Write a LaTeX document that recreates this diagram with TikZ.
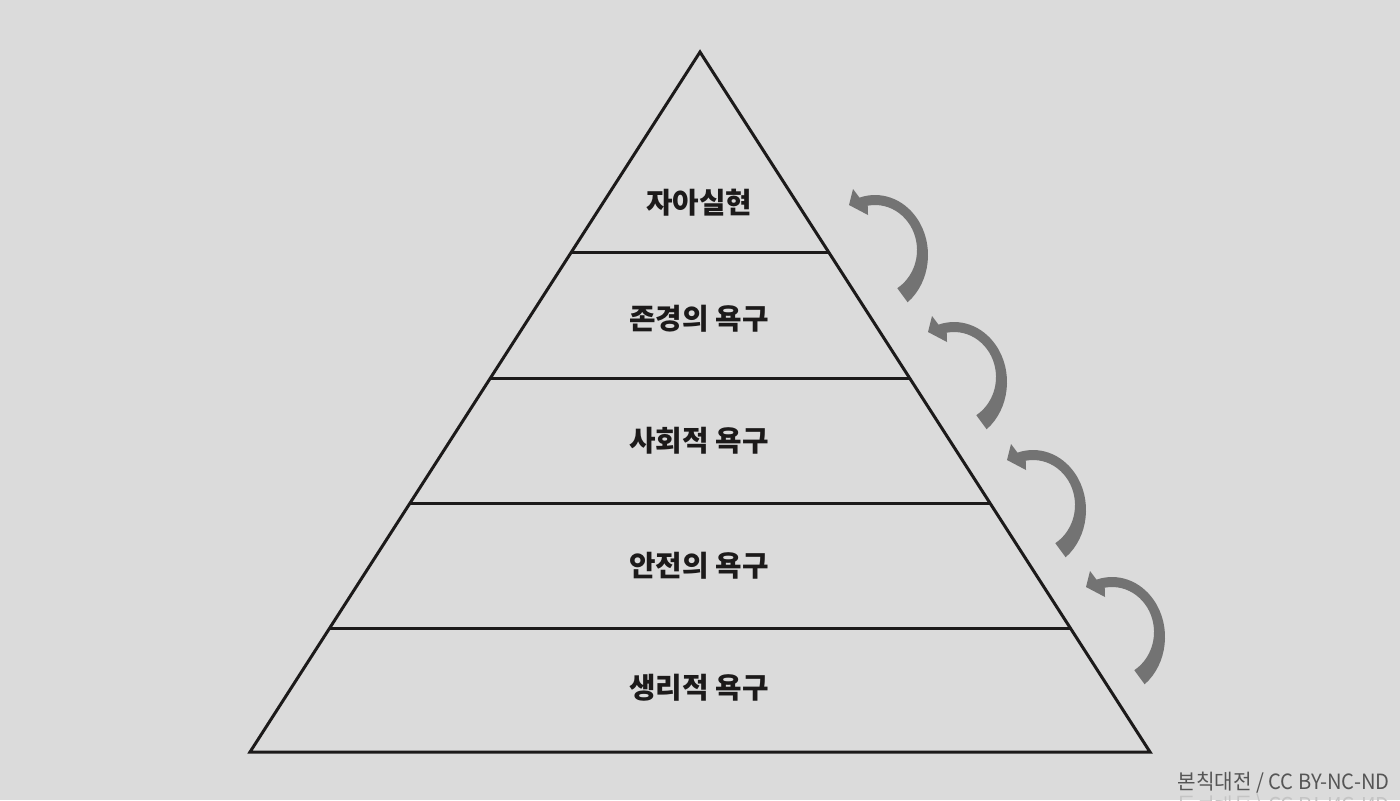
\documentclass[tikz,border=0pt]{standalone}
\usepackage{fontspec}
\newfontfamily\kr{Noto Sans CJK KR}
\usetikzlibrary{calc}
\definecolor{bg}{HTML}{DBDBDB}
\definecolor{ink}{HTML}{1C1A1A}
\definecolor{arrowgray}{HTML}{737373}
\definecolor{credit}{HTML}{555555}
\definecolor{ghost}{HTML}{C4C4C4}
\tikzset{
  level/.style={font=\kr\bfseries\fontsize{14.4}{17}\selectfont, text=ink, inner sep=0pt},
  divider/.style={draw=ink, line width=1.5pt},
  creditstyle/.style={font=\kr\fontsize{10.5}{12}\selectfont, inner sep=0pt, xscale=0.96},
  uparrow/.pic={
    \fill[arrowgray, yscale=-1] (-52:53 and 60)
      arc[start angle=-52, end angle=107, x radius=53, y radius=60]
      -- (-22,66) -- (-26,50) -- (-7,40) -- (-7.29,49.32)
      arc[start angle=100, end angle=-58, x radius=42, y radius=45] -- cycle;
  }
}
\begin{document}
\begin{tikzpicture}[x=0.5pt, y=-0.5pt]
\useasboundingbox (0,0) rectangle (1400,800);
\fill[bg] (0,0) rectangle (1400,800);
\coordinate (apex) at (700,52);
\coordinate (bl) at (250,752);
\coordinate (br) at (1150,752);
\draw[divider, line join=miter] (apex) -- (bl) -- (br) -- cycle;
\foreach \t/\n in {0.2857/1, 0.4657/2, 0.6443/3, 0.8229/4}{
  \coordinate (l\n) at ($(apex)!\t!(bl)$);
  \coordinate (r\n) at ($(apex)!\t!(br)$);
  \draw[divider] (l\n) -- (r\n);
}
\node[level] (n1) at (699,203) {자아실현};
\node[level] (n2) at (699,319) {존경의 욕구};
\node[level] (n3) at (699,441) {사회적 욕구};
\node[level] (n4) at (699,566) {안전의 욕구};
\node[level] (n5) at (699,688) {생리적 욕구};
\pic at (875,255) {uparrow};
\pic at (954,382) {uparrow};
\pic at (1033,510) {uparrow};
\pic at (1112,637) {uparrow};
\node[creditstyle, text=credit, anchor=base east] (credit) at (1390,789) {본칙대전 / CC BY-NC-ND};
\begin{scope}[yscale=-1, transform shape]
\node[creditstyle, text=ghost, anchor=base east] (ghost) at (1390,-797) {본칙대전 / CC BY-NC-ND};
\end{scope}
\end{tikzpicture}
\end{document}
